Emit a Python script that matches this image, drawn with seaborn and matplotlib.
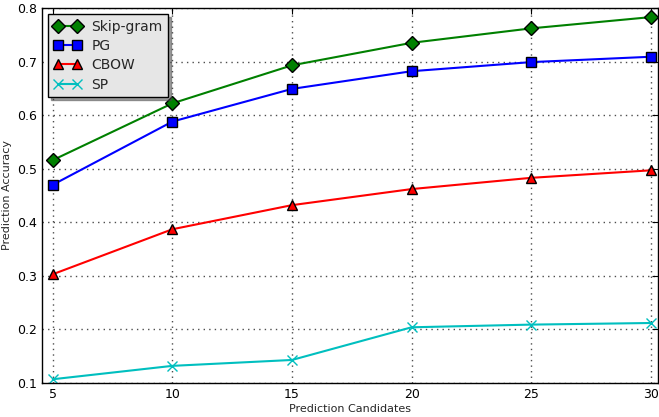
import pandas as pd
import matplotlib
matplotlib.use("Agg")
import matplotlib.pyplot as plt
import seaborn as sns

# --- datos ---
candidates = [5, 10, 15, 20, 25, 30]
skip_gram = [0.516, 0.622, 0.693, 0.735, 0.762, 0.783]
pg = [0.470, 0.588, 0.649, 0.682, 0.699, 0.709]
cbow = [0.303, 0.387, 0.432, 0.462, 0.483, 0.497]
sp = [0.107, 0.132, 0.143, 0.204, 0.209, 0.212]

series = {"Skip-gram": skip_gram, "PG": pg, "CBOW": cbow, "SP": sp}
colors = {"Skip-gram": "green", "PG": "blue", "CBOW": "red", "SP": "c"}
markers = {"Skip-gram": "D", "PG": "s", "CBOW": "^", "SP": "x"}
msizes = {"Skip-gram": 7.5, "PG": 6.5, "CBOW": 7, "SP": 7.5}

df = pd.DataFrame([
    {"Prediction Candidates": c, "Prediction Accuracy": v, "model": name}
    for name, vals in series.items() for c, v in zip(candidates, vals)
])

sns.set_style("white")
plt.rcParams['font.family'] = ['DejaVu Sans']

fig = plt.figure(figsize=(6.59, 4.17), dpi=100)
ax = fig.add_axes([42 / 659, 1 - 383 / 417, 616 / 659, 375 / 417])

for name in series:
    sub = df[df["model"] == name]
    sns.lineplot(data=sub, x="Prediction Candidates", y="Prediction Accuracy",
                 ax=ax, color=colors[name], marker=markers[name],
                 markersize=msizes[name],
                 markeredgecolor="black" if name != "SP" else colors[name],
                 markeredgewidth=1.0,
                 linewidth=1.5, label=name)

ax.set_xlim(4.55, 30.3)
ax.set_ylim(0.1, 0.8)
ax.set_xticks(candidates)
ax.set_yticks([0.1, 0.2, 0.3, 0.4, 0.5, 0.6, 0.7, 0.8])
ax.set_yticklabels(["0.1", "0.2", "0.3", "0.4", "0.5", "0.6", "0.7", "0.8"])
ax.tick_params(direction="in", top=True, right=True, length=4, labelsize=9, colors="black")
ax.grid(True, color="0.3", linestyle=(0, (1, 3)), linewidth=1.0)
for s in ax.spines.values():
    s.set_color("black")
    s.set_linewidth(1.0)
ax.set_xlabel("Prediction Candidates", fontsize=8, labelpad=2)
ax.set_ylabel("Prediction Accuracy", fontsize=8, labelpad=4)

leg = ax.legend(loc="upper left", numpoints=2, fontsize=10, shadow=True,
                fancybox=False, framealpha=1, borderaxespad=0.45,
                handlelength=2.0, handletextpad=0.7, labelspacing=0.38,
                borderpad=0.4)
leg.get_frame().set_facecolor("#e6e6e6")
leg.get_frame().set_edgecolor("black")

fig.savefig("out.png", dpi=100)
